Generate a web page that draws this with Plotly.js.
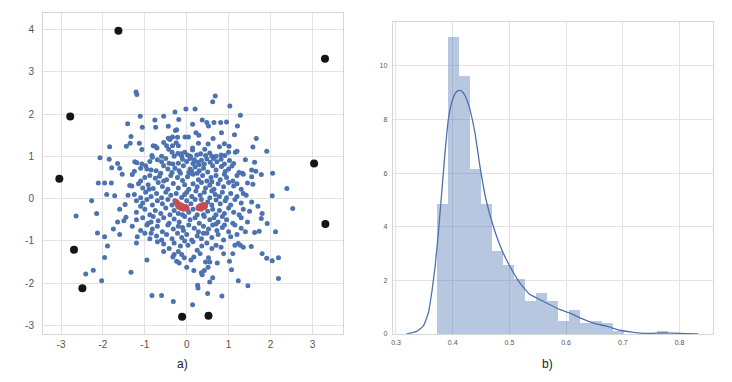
<!DOCTYPE html>
<html>
<head>
<meta charset="utf-8">
<script src="https://cdn.plot.ly/plotly-3.0.1.min.js"></script>
<style>html,body{margin:0;padding:0;background:#fff;}#chart{width:732px;height:382px;}</style>
</head>
<body>
<div id="chart"></div>
<script>
// ---------- Panel a) scatter data ----------
const bluePts = [
[-1.21,2.52],[-1.19,2.46],[0.68,2.43],[0.62,2.29],
[1.03,2.19],[-0.02,2.12],[0.2,2.12],[-0.28,2.05],
[1.28,1.97],[-1.11,1.95],[-0.55,1.95],[-0.76,1.86],[-0.19,1.87],[0.37,1.86],[0.48,1.80],[0.65,1.80],[0.81,1.80],[0.95,1.81],
[-1.41,1.77],[0.14,1.76],[0.52,1.72],[-0.74,1.69],[-0.44,1.71],[-1.06,1.69],[1.21,1.72],[-0.24,1.63],[-0.27,1.61],
[0.83,1.56],[0.22,1.56],[0.29,1.50],[1.14,1.51],[-1.33,1.47],[-0.34,1.46],[-0.22,1.45],[-0.04,1.46],[0.04,1.46],[-0.44,1.43],[0.63,1.42],[1.66,1.42],[-0.4,1.4],
[0.51,1.29],[0.28,1.31],[-1.13,1.31],[-1.35,1.31],[-1.44,1.24],[-1.84,1.23],[-0.80,1.25],[-0.75,1.24],[-0.71,1.20],[-0.34,1.25],[-0.43,1.17],[-0.48,1.25],[-0.2,1.25],[-0.25,1.32],[0.14,1.20],[0.78,1.23],[1.01,1.24],[1.58,1.22],[0.9,1.3],[-0.55,1.33],
[0.14,1.15],[-1.07,1.16],[0.43,1.17],[1.91,1.12],[1.16,1.10],[1.2,1.12],[-0.21,1.07],[-0.14,1.06],[0.33,1.06],[0.45,1.02],[-0.83,1.02],[-0.6,1.0],[0.02,1.03],[0.09,1.0],[0.24,1.03],[0.7,1.0],[0.82,1.03],[0.91,1.02],[-0.35,1.1],[-0.05,1.1],[0.55,1.08],[1.0,1.1],[-0.3,1.0],[-0.12,1.0],[0.6,1.0],
[-2.07,0.97],[-1.85,0.93],[-1.24,0.87],[-1.19,0.85],[-1.65,0.83],[-1.07,0.82],[-0.98,0.78],[-0.82,0.98],[-0.7,0.92],[-0.6,0.87],[-0.42,0.84],[-0.33,0.82],[-0.2,0.84],[-0.1,0.93],[0.0,0.88],[0.08,0.95],[0.18,0.92],[0.26,0.86],[0.35,0.91],[0.42,0.82],[0.48,0.94],[0.56,0.86],[0.64,0.95],[0.72,0.87],[0.82,0.93],[0.9,0.82],[1.02,0.9],[1.12,0.83],[1.4,0.92],[1.62,0.86],[0.3,0.8],[-0.5,0.95],[0.15,0.83],[-0.88,0.88],
[-1.79,0.73],[-1.6,0.72],[-1.1,0.72],[-0.85,0.68],[-0.95,0.7],[-0.73,0.66],[-0.62,0.6],[-0.55,0.78],[-0.45,0.7],[-0.35,0.62],[-0.28,0.72],[-0.18,0.66],[-0.08,0.78],[0.05,0.62],[0.08,0.7],[0.1,0.6],[0.12,0.65],[0.2,0.75],[0.3,0.66],[0.4,0.72],[0.5,0.63],[0.62,0.78],[0.7,0.68],[0.83,0.76],[0.92,0.64],[1.0,0.7],[1.08,0.77],[1.25,0.62],[1.33,0.6],[1.55,0.68],[1.65,0.65],[-1.25,0.65],[0.25,0.6],[-0.15,0.6],
[-1.54,0.58],[-1.3,0.57],[-1.1,0.42],[-0.88,0.55],[-0.75,0.48],[-0.65,0.53],[-0.48,0.45],[-0.38,0.55],[-0.22,0.5],[-0.1,0.43],[0.02,0.52],[0.15,0.58],[0.28,0.45],[0.38,0.55],[0.48,0.42],[0.58,0.5],[0.7,0.55],[0.8,0.45],[0.95,0.5],[1.1,0.42],[1.2,0.55],[1.35,0.58],[1.55,0.52],[1.78,0.57],[2.05,0.6],[0.9,0.58],[-0.55,0.42],[-1.0,0.5],[0.6,0.4],
[-2.11,0.37],[-1.96,0.37],[-1.8,0.37],[-1.36,0.31],[-1.31,0.3],[-1.15,0.35],[-1.05,0.25],[-0.92,0.33],[-0.8,0.24],[-0.68,0.38],[-0.58,0.29],[-0.45,0.22],[-0.32,0.36],[-0.2,0.25],[-0.05,0.33],[0.05,0.22],[0.15,0.35],[0.25,0.28],[0.35,0.38],[0.45,0.25],[0.55,0.32],[0.65,0.22],[0.75,0.35],[0.88,0.28],[1.0,0.38],[1.12,0.3],[1.2,0.35],[1.45,0.37],[1.58,0.34],[2.39,0.24],[1.3,0.22],[-0.9,0.22],
[-1.91,0.1],[-1.72,0.07],[-1.4,0.08],[-1.25,0.1],[-1.1,0.02],[-0.98,0.15],[-0.85,0.05],[-0.72,0.12],[-0.6,0.02],[-0.5,0.15],[-0.38,0.08],[-0.25,0.12],[-0.12,0.03],[0.0,0.15],[0.12,0.05],[0.22,0.18],[0.32,0.08],[0.42,0.15],[0.55,0.02],[0.68,0.1],[0.78,0.05],[0.85,0.15],[0.95,0.02],[1.05,0.12],[1.2,0.05],[1.35,0.12],[1.42,0.08],[2.04,0.07],[-0.05,0.1],[0.6,0.18],
[-2.27,-0.05],[-1.47,-0.14],[-1.2,-0.05],[-1.05,-0.1],[-0.95,-0.02],[-0.82,-0.15],[-0.7,-0.05],[-0.58,-0.12],[-0.45,-0.02],[-0.35,-0.15],[-0.28,-0.05],[0.1,-0.12],[0.2,-0.02],[0.5,-0.08],[0.6,-0.15],[0.7,-0.03],[0.8,-0.12],[0.92,-0.05],[1.05,-0.15],[1.15,-0.02],[1.3,-0.1],[1.55,-0.08],[1.7,-0.18],[0.0,-0.05],[-1.1,-0.18],[0.35,-0.02],
[2.53,-0.23],[-2.15,-0.35],[-1.6,-0.25],[-1.2,-0.32],[-1.0,-0.25],[-0.88,-0.38],[-0.75,-0.28],[-0.62,-0.35],[-0.5,-0.22],[-0.4,-0.38],[-0.3,-0.28],[-0.2,-0.35],[0.05,-0.32],[0.15,-0.25],[0.25,-0.38],[0.5,-0.3],[0.62,-0.25],[0.7,-0.38],[0.78,-0.28],[0.9,-0.35],[1.0,-0.22],[1.12,-0.32],[1.25,-0.38],[1.35,-0.25],[1.5,-0.3],[1.8,-0.35],[0.4,-0.38],[-0.1,-0.38],
[-2.64,-0.41],[-1.45,-0.44],[-1.5,-0.52],[-1.65,-0.55],[-1.2,-0.5],[-1.05,-0.45],[-0.92,-0.58],[-0.8,-0.42],[-0.68,-0.52],[-0.55,-0.45],[-0.42,-0.58],[-0.3,-0.48],[-0.18,-0.55],[-0.05,-0.42],[0.08,-0.5],[0.2,-0.45],[0.3,-0.58],[0.42,-0.42],[0.55,-0.5],[0.65,-0.45],[0.75,-0.55],[0.85,-0.42],[0.95,-0.5],[1.1,-0.58],[1.3,-0.45],[1.45,-0.55],[1.78,-0.47],[1.92,-0.59],[0.7,-0.6],[-0.85,-0.55],
[-1.75,-0.72],[-1.3,-0.65],[-1.1,-0.75],[-0.95,-0.62],[-0.82,-0.72],[-0.7,-0.65],[-0.58,-0.78],[-0.45,-0.62],[-0.32,-0.72],[-0.2,-0.65],[-0.08,-0.75],[0.05,-0.62],[0.18,-0.7],[0.28,-0.78],[0.4,-0.65],[0.52,-0.72],[0.62,-0.62],[0.72,-0.75],[0.85,-0.68],[1.0,-0.78],[1.15,-0.62],[1.3,-0.7],[1.4,-0.78],[1.62,-0.8],[1.73,-0.77],[2.12,-0.78],[-0.1,-0.68],[0.9,-0.62],
[-2.13,-0.81],[-1.96,-0.9],[-1.6,-0.85],[-1.18,-0.9],[-1.0,-0.82],[-0.88,-0.95],[-0.72,-0.88],[-0.6,-0.98],[-0.48,-0.85],[-0.35,-0.95],[-0.22,-0.82],[-0.12,-0.92],[0.0,-0.85],[0.12,-0.98],[0.25,-0.88],[0.35,-0.95],[0.48,-0.82],[0.6,-0.92],[0.75,-0.85],[0.88,-0.98],[1.05,-0.9],[1.2,-0.85],[-0.85,-0.82],[0.4,-0.82],
[-1.89,-1.12],[-1.2,-1.05],[-0.55,-1.07],[-0.42,-1.18],[-0.3,-1.05],[-0.15,-1.12],[0.03,-1.1],[0.15,-1.02],[0.36,-1.12],[0.48,-1.05],[0.6,-1.18],[0.7,-1.1],[0.82,-1.15],[1.23,-1.06],[1.28,-1.1],[1.15,-1.1],[1.35,-1.15],[1.54,-1.13],[-0.7,-1.02],[-0.05,-1.0],
[-1.96,-1.39],[-0.3,-1.32],[-0.33,-1.38],[-0.12,-1.32],[0.17,-1.38],[0.32,-1.3],[0.52,-1.4],[0.88,-1.3],[1.1,-1.3],[1.8,-1.3],[1.91,-1.41],[-0.55,-1.25],[0.25,-1.22],[-0.2,-1.25],
[-0.95,-1.45],[-0.06,-1.4],[-0.18,-1.52],[-0.24,-1.48],[0.55,-1.5],[0.45,-1.5],[0.73,-1.52],[1.02,-1.48],[2.04,-1.47],[2.19,-1.4],[0.1,-1.45],
[-2.23,-1.69],[-2.41,-1.78],[-1.33,-1.74],[0.0,-1.62],[0.17,-1.7],[0.42,-1.7],[0.51,-1.62],[1.07,-1.68],[0.35,-1.75],
[-2.03,-1.94],[0.37,-1.8],[0.55,-1.97],[0.62,-1.87],[1.23,-1.94],[2.19,-1.89],
[1.46,-2.06],[0.26,-2.05],[0.27,-2.11],[0.5,-2.24],[0.84,-2.3],[-0.83,-2.29],[-0.6,-2.29],[-0.32,-2.43],[0.14,-2.51]
];
const outlierPts = [
[-1.63,3.97],[3.30,3.31],[-2.78,1.94],[3.04,0.83],[-3.04,0.47],
[3.31,-0.60],[-2.69,-1.21],[-2.49,-2.12],[-0.11,-2.79],[0.52,-2.77]
];
const redPts = [
[-0.25,-0.08],[-0.22,-0.12],[-0.2,-0.18],[-0.17,-0.2],[-0.13,-0.22],[-0.1,-0.2],[-0.08,-0.24],
[-0.05,-0.22],[-0.02,-0.2],[-0.18,-0.14],[-0.12,-0.17],[0.0,-0.24],
[0.28,-0.22],[0.32,-0.18],[0.36,-0.16],[0.4,-0.15],[0.44,-0.17],[0.3,-0.2],[0.38,-0.21],[0.42,-0.19],[0.34,-0.24]
];
const aTickVals = [-3,-2,-1,0,1,2,3];
const aTickText = ['-3','-2','-1','0','1','2','3'];
const aYTickVals = [-3,-2,-1,0,1,2,3,4];
const aYTickText = ['-3','-2','-1','0','1','2','3','4'];

// ---------- Panel b) histogram + KDE ----------
const binStart = 0.3723;
const binWidth = 0.0194;
const binHeights = [4.85,11.08,9.64,6.17,4.85,3.08,2.56,2.04,1.23,1.53,1.23,0.50,0.91,0.41,0.50,0.41,0.10,0,0,0,0.10];
const kdeX = [0.3188,0.3365,0.348,0.357,0.363,0.369,0.3747,0.3806,0.3864,0.3923,0.398,0.404,0.4095,0.4129,0.417,0.4217,0.4265,0.4305,0.4393,0.448,0.4587,0.4716,0.4864,0.501,0.5187,0.5363,0.554,0.5716,0.5893,0.607,0.6246,0.648,0.6716,0.695,0.7186,0.742,0.7716,0.789,0.8128,0.833];
const kdeY = [0.0,0.1,0.29,0.78,1.53,2.52,3.77,5.26,6.75,8.0,8.62,8.96,9.08,9.09,9.04,8.9,8.65,8.37,7.5,6.26,5.01,4.02,3.15,2.52,1.9,1.47,1.28,1.09,0.91,0.78,0.6,0.41,0.29,0.14,0.06,0.025,0.04,0.03,0.012,0.0];
const bXTickVals = [0.3,0.4,0.5,0.6,0.7,0.8];
const bXTickText = ['0.3','0.4','0.5','0.6','0.7','0.8'];
const bYTickVals = [0,2,4,6,8,10];

const binLefts = binHeights.map((_, i) => binStart + i * binWidth);

const FONT = 'Liberation Sans, Arial, sans-serif';
const GRID = '#e3e3e3';
const FRAME = '#d6d6d6';

const traces = [
  {type:'scatter', mode:'markers', x:bluePts.map(p=>p[0]), y:bluePts.map(p=>p[1]),
   xaxis:'x', yaxis:'y', marker:{color:'#4c72b0', size:5, line:{width:0}}, hoverinfo:'skip'},
  {type:'scatter', mode:'markers', x:redPts.map(p=>p[0]), y:redPts.map(p=>p[1]),
   xaxis:'x', yaxis:'y', marker:{color:'#c44e52', size:6, line:{width:0}}, hoverinfo:'skip'},
  {type:'scatter', mode:'markers', x:outlierPts.map(p=>p[0]), y:outlierPts.map(p=>p[1]),
   xaxis:'x', yaxis:'y', marker:{color:'#151515', size:8, line:{width:0}}, hoverinfo:'skip'},
  {type:'bar', x:binLefts, y:binHeights, width:binWidth, offset:0,
   xaxis:'x2', yaxis:'y2', marker:{color:'rgba(76,114,176,0.4)', line:{width:0}}, hoverinfo:'skip'},
  {type:'scatter', mode:'lines', x:kdeX, y:kdeY, line:{color:'#4c72b0', width:1.3, shape:'spline', smoothing:0.4},
   xaxis:'x2', yaxis:'y2', hoverinfo:'skip'}
];

const axBase = {showgrid:true, gridcolor:GRID, gridwidth:1, zeroline:false, showline:true, mirror:true,
  linecolor:FRAME, linewidth:1, ticks:'', automargin:false, fixedrange:true};

const layout = {
  width:732, height:382, showlegend:false,
  paper_bgcolor:'#ffffff', plot_bgcolor:'#ffffff',
  margin:{l:0, r:0, t:0, b:0},
  font:{family:FONT, color:'#555'},
  bargap:0,
  xaxis:Object.assign({}, axBase, {domain:[43/732, 343/732], range:[-3.43,3.73], anchor:'y',
    tickmode:'array', tickvals:aTickVals, ticktext:aTickText, tickfont:{size:10, color:'#555'}, ticklabelstandoff:1}),
  yaxis:Object.assign({}, axBase, {domain:[48/382, 369/382], range:[-3.2,4.39], anchor:'x',
    tickmode:'array', tickvals:aYTickVals, ticktext:aYTickText, tickfont:{size:10, color:'#555'}, ticklabelstandoff:6}),
  xaxis2:Object.assign({}, axBase, {domain:[392.7/732, 713.3/732], range:[0.2942,0.8596], anchor:'y2',
    tickmode:'array', tickvals:bXTickVals, ticktext:bXTickText, tickfont:{size:7, color:'#555'}, ticklabelstandoff:2}),
  yaxis2:Object.assign({}, axBase, {domain:[48/382, 359.7/382], range:[0,11.63], anchor:'x2',
    tickmode:'array', tickvals:bYTickVals, tickfont:{size:7, color:'#555'}, ticklabelstandoff:3}),
  annotations:[
    {text:'a)', xref:'paper', yref:'paper', x:182/732, y:1-364/382, xanchor:'center', yanchor:'middle', showarrow:false, font:{size:12, color:'#222', family:FONT}},
    {text:'b)', xref:'paper', yref:'paper', x:547/732, y:1-364/382, xanchor:'center', yanchor:'middle', showarrow:false, font:{size:12, color:'#222', family:FONT}}
  ]
};

Plotly.newPlot('chart', traces, layout, {staticPlot:true, displayModeBar:false});
</script>
</body>
</html>
